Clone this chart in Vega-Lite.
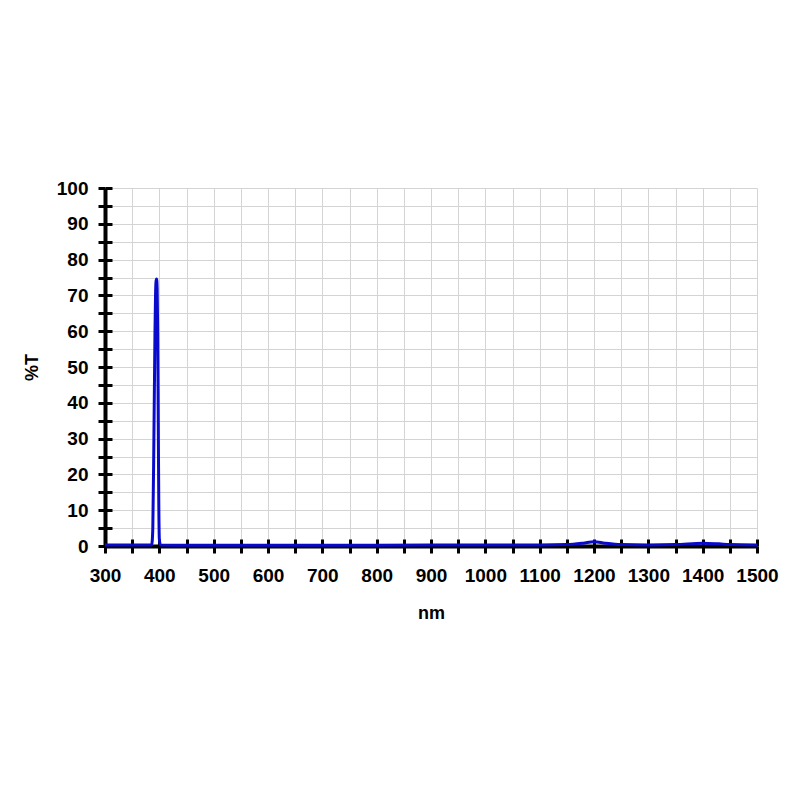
{
  "$schema": "https://vega.github.io/schema/vega-lite/v6.json",
  "width": 652,
  "height": 358,
  "autosize": {"type": "none"},
  "padding": {"left": 105, "top": 188, "right": 43, "bottom": 254},
  "background": "white",
  "data": {
    "values": [
      {"nm": 300, "T": 0.3},
      {"nm": 350, "T": 0.3},
      {"nm": 380, "T": 0.3},
      {"nm": 386, "T": 0.3},
      {"nm": 388, "T": 5},
      {"nm": 390, "T": 30},
      {"nm": 392, "T": 60},
      {"nm": 393, "T": 70},
      {"nm": 394, "T": 74},
      {"nm": 395, "T": 74.6},
      {"nm": 396, "T": 72},
      {"nm": 397, "T": 60},
      {"nm": 398, "T": 35},
      {"nm": 399, "T": 12},
      {"nm": 400, "T": 2},
      {"nm": 402, "T": 0.3},
      {"nm": 450, "T": 0.2},
      {"nm": 600, "T": 0.2},
      {"nm": 800, "T": 0.2},
      {"nm": 1000, "T": 0.3},
      {"nm": 1100, "T": 0.3},
      {"nm": 1150, "T": 0.4},
      {"nm": 1180, "T": 0.8},
      {"nm": 1200, "T": 1.2},
      {"nm": 1220, "T": 0.8},
      {"nm": 1250, "T": 0.4},
      {"nm": 1300, "T": 0.3},
      {"nm": 1350, "T": 0.4},
      {"nm": 1400, "T": 0.8},
      {"nm": 1430, "T": 0.6},
      {"nm": 1450, "T": 0.4},
      {"nm": 1500, "T": 0.3}
    ]
  },
  "layer": [
    {
      "mark": {"type": "line", "strokeOpacity": 0},
      "encoding": {
        "x": {
          "field": "nm", "type": "quantitative",
          "scale": {"domain": [300, 1500], "nice": false, "zero": false},
          "axis": {
            "orient": "bottom", "values": [300,350,400,450,500,550,600,650,700,750,800,850,900,950,1000,1050,1100,1150,1200,1250,1300,1350,1400,1450,1500],
            "labels": false, "domain": false, "grid": false, "title": null,
            "tickSize": -7, "tickWidth": 3, "tickColor": "black"
          }
        },
        "y": {
          "field": "T", "type": "quantitative",
          "scale": {"domain": [0, 100], "nice": false},
          "axis": {
            "orient": "left", "values": [0,5,10,15,20,25,30,35,40,45,50,55,60,65,70,75,80,85,90,95,100],
            "labels": false, "domain": false, "grid": false, "title": null,
            "tickSize": -7, "tickWidth": 3, "tickColor": "black"
          }
        }
      }
    },
    {
      "mark": {"type": "line", "color": "#0a0acc", "strokeWidth": 3, "interpolate": "monotone"},
      "encoding": {
        "x": {
          "field": "nm", "type": "quantitative",
          "scale": {"domain": [300, 1500], "nice": false, "zero": false},
          "axis": {
            "orient": "bottom", "title": "nm",
            "values": [300,350,400,450,500,550,600,650,700,750,800,850,900,950,1000,1050,1100,1150,1200,1250,1300,1350,1400,1450,1500],
            "labelExpr": "datum.value % 100 === 0 ? datum.label : ''",
            "format": "d",
            "grid": true, "gridColor": "#d4d4d4", "gridWidth": 1,
            "domainColor": "black", "domainWidth": 4,
            "tickColor": "black", "tickWidth": 3, "tickSize": 7,
            "labelFont": "Liberation Sans", "labelFontWeight": "bold", "labelFontSize": 19, "labelColor": "black",
            "labelPadding": 13, "labelFlush": false, "labelOverlap": false,
            "titleFont": "Liberation Sans", "titleFontWeight": "bold", "titleFontSize": 18, "titleColor": "black",
            "titlePadding": 19
          }
        },
        "y": {
          "field": "T", "type": "quantitative",
          "scale": {"domain": [0, 100], "nice": false},
          "axis": {
            "orient": "left", "title": "%T",
            "values": [0,5,10,15,20,25,30,35,40,45,50,55,60,65,70,75,80,85,90,95,100],
            "labelExpr": "datum.value % 10 === 0 ? datum.label : ''",
            "grid": true, "gridColor": "#d4d4d4", "gridWidth": 1,
            "domainColor": "black", "domainWidth": 4,
            "tickColor": "black", "tickWidth": 3, "tickSize": 7,
            "labelFont": "Liberation Sans", "labelFontWeight": "bold", "labelFontSize": 19, "labelColor": "black",
            "labelPadding": 10, "labelFlush": false, "labelOverlap": false,
            "titleFont": "Liberation Sans", "titleFontWeight": "bold", "titleFontSize": 18, "titleColor": "black",
            "titlePadding": 15
          }
        }
      }
    }
  ],
  "resolve": {"axis": {"x": "independent", "y": "independent"}},
  "config": {"view": {"stroke": null}}
}
